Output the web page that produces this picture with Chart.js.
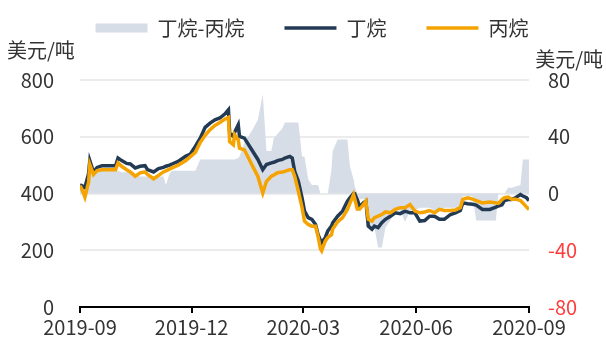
<!DOCTYPE html>
<html>
<head>
<meta charset="utf-8">
<script src="https://cdn.jsdelivr.net/npm/chart.js@4.4.0/dist/chart.umd.min.js"></script>
<style>
  html, body { margin: 0; padding: 0; background: #fff; }
  #wrap { width: 606px; height: 345px; }
</style>
</head>
<body>
<div id="wrap"><canvas id="myChart"></canvas></div>
<script>
// dias contados a partir de 2019-09-01
var dias = [0, 2, 4, 7, 8, 11, 14, 18, 29, 31, 34, 38, 41, 45, 49, 53, 55, 60, 64, 68,
    70, 73, 75, 80, 86, 90, 94, 98, 102, 106, 110, 114, 118, 121, 122, 125, 126, 129, 130, 134,
    140, 145, 149, 152, 156, 158, 161, 165, 167, 171, 173, 175, 178, 181, 183, 186, 189, 192, 194, 196,
    197, 200, 202, 205, 206, 210, 214, 218, 220, 223, 224, 226, 228, 231, 233, 235, 238, 240, 243, 246,
    249, 253, 257, 261, 265, 269, 273, 277, 281, 285, 289, 293, 297, 302, 306, 310, 312, 316, 320, 323,
    328, 334, 339, 341, 344, 346, 349, 352, 355, 359, 361, 364, 366];

// 丁烷 (美元/吨)
var butano = [431, 426, 421, 470, 516, 476, 492, 498, 498, 525, 516, 506, 504, 490, 496, 498, 484, 476, 488, 492,
    496, 500, 504, 513, 531, 539, 566, 595, 633, 648, 660, 666, 680, 695, 612, 601, 615, 642, 601, 595,
    554, 520, 484, 502, 508, 510, 516, 520, 525, 531, 525, 478, 443, 385, 338, 315, 309, 291, 256, 235,
    227, 245, 268, 285, 297, 320, 338, 373, 385, 400, 399, 379, 352, 367, 373, 285, 274, 285, 280, 297,
    309, 320, 332, 329, 338, 332, 332, 303, 305, 320, 320, 309, 309, 326, 332, 340, 367, 364, 362, 359,
    344, 344, 352, 356, 360, 375, 379, 379, 385, 396, 391, 385, 375];

// 丙烷 (美元/吨)
var propano = [428, 410, 387, 440, 502, 467, 481, 484, 484, 508, 496, 484, 476, 461, 473, 476, 467, 452, 464, 476,
    480, 486, 490, 500, 515, 530, 545, 580, 605, 625, 640, 650, 662, 668, 583, 572, 607, 589, 560, 554,
    502, 460, 402, 443, 461, 465, 473, 476, 478, 484, 484, 461, 408, 350, 303, 291, 285, 285, 250, 205,
    198, 233, 245, 255, 275, 300, 315, 344, 365, 396, 380, 345, 345, 361, 373, 309, 303, 315, 320, 326,
    335, 332, 344, 350, 350, 361, 338, 332, 335, 340, 332, 344, 340, 340, 342, 350, 379, 385, 380, 375,
    367, 370, 367, 365, 379, 385, 387, 380, 380, 375, 367, 352, 344];

// 丁烷-丙烷 价差 (eixo da direita)
var spread = [7, 6, 6, 12, 14, 16, 16, 16, 16, 16, 15, 15, 15, 13, 12, 12, 12, 12, 12, 12,
    6, 14, 16, 16, 16, 16, 16, 24, 24, 24, 24, 24, 24, 24, 24, 24, 24, 25, 26, 36,
    44, 52, 70, 30, 30, 39, 42, 46, 50, 50, 50, 50, 50, 26, 26, 10, 6, 6, 6, 0,
    0, 0, 0, 17, 30, 38, 38, 38, 19, 10, 5, 0, -4, -4, -4, -24, -24, -24, -38, -38,
    -24, -19, -12, -12, -20, -12, -12, -10, -10, -10, -12, -12, -10, -10, -10, -10, -2, -2, -2, -19,
    -19, -19, -19, 0, 0, 0, 4, 4, 5, 6, 24, 24, 24];

// ticks do eixo x
var diasTick = [0, 91, 182, 274, 366];
var labelsTick = ['2019-09', '2019-12', '2020-03', '2020-06', '2020-09'];

function pontos(valores) {
    return valores.map(function (v, i) { return { x: dias[i], y: v }; });
}

Chart.defaults.font.family = '"Noto Sans CJK SC", "Noto Sans", sans-serif';
Chart.defaults.font.size = 20;
Chart.defaults.color = '#333333';

// unidades escritas por cima dos eixos
var unidades = {
    id: 'unidades',
    afterDraw: function (chart) {
        var ctx = chart.ctx;
        ctx.save();
        ctx.font = '20px "Noto Sans CJK SC", sans-serif';
        ctx.fillStyle = '#333333';
        ctx.textBaseline = 'middle';
        ctx.textAlign = 'left';
        ctx.fillText('美元/吨', 7, 50);
        ctx.textAlign = 'right';
        ctx.fillText('美元/吨', 603, 59);
        ctx.restore();
    }
};

var data = {
    datasets: [{
        label: '丁烷-丙烷',
        data: pontos(spread),
        xAxisID: 'x',
        yAxisID: 'y1',
        fill: 'origin',
        backgroundColor: '#d6dde6',
        borderColor: '#d6dde6',
        borderWidth: 0,
        pointRadius: 0,
        pointStyle: 'rect',
        order: 3
    }, {
        label: '丁烷',
        data: pontos(butano),
        xAxisID: 'x',
        yAxisID: 'y',
        borderColor: '#233a55',
        backgroundColor: '#233a55',
        borderWidth: 3.5,
        pointRadius: 0,
        pointStyle: 'line',
        order: 2
    }, {
        label: '丙烷',
        data: pontos(propano),
        xAxisID: 'x',
        yAxisID: 'y',
        borderColor: '#f5a300',
        backgroundColor: '#f5a300',
        borderWidth: 3.5,
        pointRadius: 0,
        pointStyle: 'line',
        order: 1
    }]
};

var config = {
    type: 'line',
    data: data,
    options: {
        responsive: true,
        maintainAspectRatio: false,
        animation: false,
        layout: { padding: { top: -22, left: 18 } },
        plugins: {
            tooltip: { enabled: false },
            legend: {
                position: 'top',
                labels: {
                    usePointStyle: true,
                    pointStyleWidth: 52,
                    boxHeight: 9,
                    padding: 40,
                    color: '#333333',
                    font: { size: 20 },
                    sort: function (a, b) { return a.datasetIndex - b.datasetIndex; }
                }
            }
        },
        scales: {
            x: {
                type: 'linear',
                min: 0,
                max: 366,
                afterBuildTicks: function (s) {
                    s.ticks = diasTick.map(function (v) { return { value: v }; });
                },
                ticks: {
                    autoSkip: false,
                    maxRotation: 0,
                    padding: 2,
                    color: '#333333',
                    callback: function (v, i) { return labelsTick[i]; }
                },
                grid: { drawOnChartArea: false, drawTicks: true, tickLength: 6, color: '#000000', lineWidth: 2 },
                border: { display: true, color: '#000000', width: 2 },
                afterFit: function (s) { s.height = 36; }
            },
            // so para abrir espaco entre a legenda e o grafico
            espaco: {
                type: 'linear',
                position: 'top',
                grid: { display: false },
                border: { display: false },
                ticks: { display: false },
                afterFit: function (s) { s.height = 32; }
            },
            y: {
                position: 'left',
                min: 0,
                max: 800,
                ticks: { stepSize: 200, padding: 26, color: '#333333' },
                grid: { color: '#ebebeb', lineWidth: 2, drawTicks: false },
                border: { display: false },
                afterFit: function (s) { s.width = 62; }
            },
            y1: {
                position: 'right',
                min: -80,
                max: 80,
                ticks: {
                    stepSize: 40,
                    padding: 19,
                    color: function (c) { return c.tick.value < 0 ? '#ff3b3b' : '#333333'; }
                },
                grid: { drawOnChartArea: false, drawTicks: false },
                border: { display: false },
                afterFit: function (s) { s.width = 77; }
            }
        }
    },
    plugins: [unidades]
};

var myChart = new Chart(document.getElementById('myChart'), config);
</script>
</body>
</html>
